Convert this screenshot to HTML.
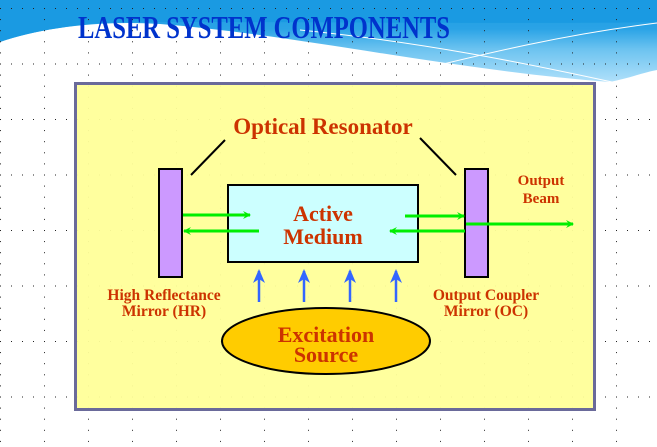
<!DOCTYPE html>
<html><head><meta charset="utf-8"><style>
html,body{margin:0;padding:0;background:#fff}
svg{display:block}
text{font-family:"Liberation Serif",serif;font-weight:bold}
</style></head><body>
<svg width="657" height="447" viewBox="0 0 657 447" xmlns="http://www.w3.org/2000/svg">
<defs>
<pattern id="dotsH" x="0" y="8" width="11" height="55.5" patternUnits="userSpaceOnUse"><rect x="0" y="0" width="1" height="1" fill="#222"/></pattern>
<pattern id="dotsV" x="0" y="8" width="44" height="11.1" patternUnits="userSpaceOnUse"><rect x="0" y="0" width="1" height="1" fill="#222"/></pattern>
<linearGradient id="wg" x1="0" y1="0" x2="0" y2="1">
<stop offset="0" stop-color="#1a9ae2"/><stop offset="0.35" stop-color="#2aa3e6"/><stop offset="0.6" stop-color="#6cc3f0"/><stop offset="1" stop-color="#b0e0fa"/></linearGradient>
<marker id="ag" markerWidth="8" markerHeight="8" refX="7" refY="4" orient="auto" markerUnits="userSpaceOnUse"><path d="M0,0 L8,4 L0,8 L3,4Z" fill="#00ee00"/></marker>
<marker id="ab" markerWidth="14" markerHeight="12" refX="12" refY="6" orient="auto" markerUnits="userSpaceOnUse"><path d="M0,0 L14,6 L0,12 L4,6Z" fill="#3366ff"/></marker>
</defs>
<g>
<path d="M0,0 H657 V70 C645,72 630,78 610,82 C450,70 300,35 160,24 C100,20 40,28 0,42Z" fill="url(#wg)"/>
<path d="M0,0 H657 V22 C560,24 300,22 160,22 C100,20 40,28 0,42Z" fill="#1a9ae2"/>
<path d="M410,72 C480,55 560,35 657,23" stroke="#fff" stroke-width="1" fill="none"/>
<path d="M612,82 C520,62 420,42 300,30" stroke="#fff" stroke-width="1" fill="none"/>
</g>
<rect x="0" y="0" width="657" height="447" fill="url(#dotsH)"/>
<rect x="0" y="0" width="657" height="447" fill="url(#dotsV)"/>
<text x="264" y="38" font-size="32" fill="#0033cc" text-anchor="middle" textLength="372" lengthAdjust="spacingAndGlyphs">LASER SYSTEM COMPONENTS</text>
<rect x="75.5" y="83.5" width="519" height="326" fill="#ffff99" fill-opacity="0.95" stroke="#6a6a9a" stroke-width="3"/>
<text x="323" y="134" font-size="23" fill="#cc3300" text-anchor="middle">Optical Resonator</text>
<line x1="225" y1="140" x2="191" y2="175" stroke="#000" stroke-width="2"/>
<line x1="420" y1="138" x2="456" y2="175" stroke="#000" stroke-width="2"/>
<rect x="159" y="169" width="23" height="108" fill="#cc99ff" stroke="#000" stroke-width="2"/>
<rect x="465" y="169" width="23" height="108" fill="#cc99ff" stroke="#000" stroke-width="2"/>
<rect x="228" y="185" width="190" height="77" fill="#ccffff" stroke="#000" stroke-width="2"/>
<text x="323" y="221" font-size="22" fill="#cc3300" text-anchor="middle">Active</text>
<text x="323" y="244" font-size="22" fill="#cc3300" text-anchor="middle">Medium</text>
<g stroke="#00ee00" stroke-width="3" fill="none">
<line x1="183" y1="215" x2="250" y2="215" marker-end="url(#ag)"/>
<line x1="259" y1="231" x2="184" y2="231" marker-end="url(#ag)"/>
<line x1="405" y1="216" x2="464" y2="216" marker-end="url(#ag)"/>
<line x1="465" y1="231" x2="390" y2="231" marker-end="url(#ag)"/>
<line x1="466" y1="224" x2="573" y2="224" marker-end="url(#ag)"/>
</g>
<text x="541" y="185" font-size="15" fill="#cc3300" text-anchor="middle">Output</text>
<text x="541" y="203" font-size="15" fill="#cc3300" text-anchor="middle">Beam</text>
<g stroke="#3366ff" stroke-width="2.5">
<line x1="259" y1="302" x2="259" y2="271" marker-end="url(#ab)"/>
<line x1="304" y1="302" x2="304" y2="271" marker-end="url(#ab)"/>
<line x1="350" y1="302" x2="350" y2="271" marker-end="url(#ab)"/>
<line x1="396" y1="302" x2="396" y2="271" marker-end="url(#ab)"/>
</g>
<text x="164" y="300" font-size="15.5" fill="#cc3300" text-anchor="middle">High Reflectance</text>
<text x="164" y="316" font-size="15.5" fill="#cc3300" text-anchor="middle">Mirror (HR)</text>
<text x="486" y="300" font-size="15.5" fill="#cc3300" text-anchor="middle">Output Coupler</text>
<text x="486" y="316" font-size="15.5" fill="#cc3300" text-anchor="middle">Mirror (OC)</text>
<ellipse cx="326" cy="341" rx="104" ry="33" fill="#ffcc00" stroke="#000" stroke-width="2"/>
<text x="326" y="342" font-size="22" fill="#cc3300" text-anchor="middle">Excitation</text>
<text x="326" y="362" font-size="22" fill="#cc3300" text-anchor="middle">Source</text>
</svg>
</body></html>
